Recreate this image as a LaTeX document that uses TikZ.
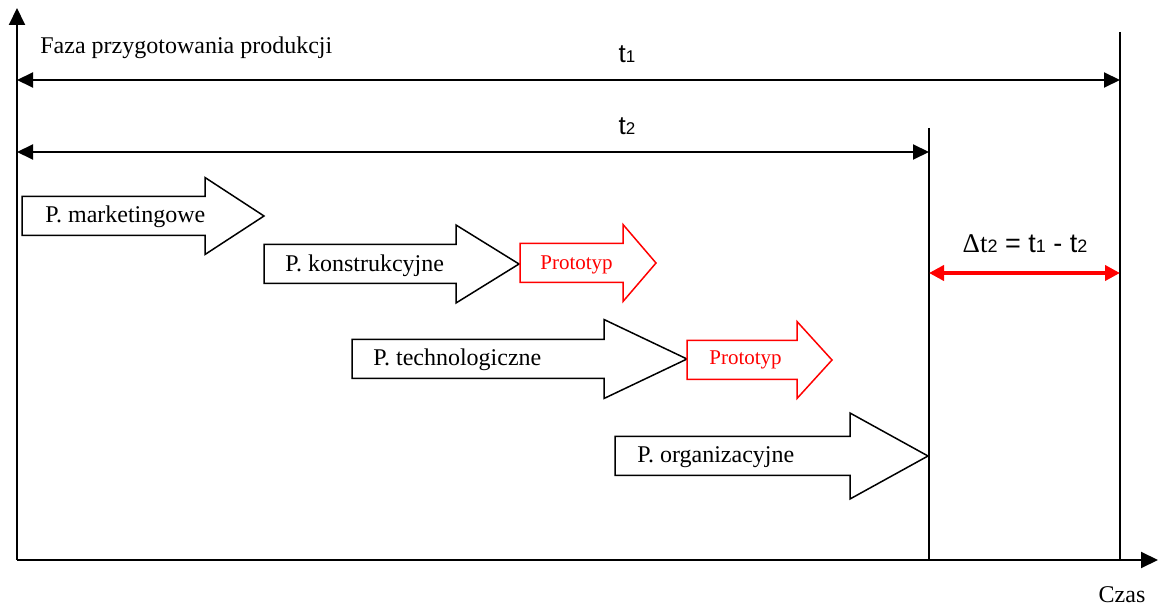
\documentclass[tikz,border=0pt]{standalone}
\usepackage{fontspec}
\setmainfont{Liberation Serif}
\newfontfamily\arialfont{Liberation Sans}
\usetikzlibrary{arrows.meta}

% block arrow: style, name of tip, left x, mid y, head x, tip x, head half height
\newcommand{\phasearrow}[7]{%
  \draw[#1] (#3,#4-19.5) -- (#5,#4-19.5) -- (#5,#4-#7) -- (#6,#4)
    -- (#5,#4+#7) -- (#5,#4+19.5) -- (#3,#4+19.5) -- cycle;
  \coordinate (#2) at (#6,#4);
}
\newcommand{\tlab}[1]{{\arialfont\fontsize{13}{15}\selectfont t\fontsize{8.5}{10}\selectfont #1}}

\begin{document}
\begin{tikzpicture}[x=0.5pt, y=-0.5pt,
    axis/.style={line width=1pt, -{Triangle[length=8.5pt,width=8pt]}},
    dim/.style={line width=1pt, {Triangle[length=8pt,width=7.5pt]}-{Triangle[length=8pt,width=7.5pt]}},
    delta/.style={red, line width=2.2pt, {Triangle[length=7.5pt,width=7.5pt]}-{Triangle[length=7.5pt,width=7.5pt]}},
    phase/.style={draw=black, line width=0.75pt, fill=white},
    proto/.style={draw=red, line width=0.75pt, fill=white},
    lbl/.style={inner sep=0pt, anchor=base west, font=\fontsize{12}{14}\selectfont},
    protolbl/.style={inner sep=0pt, anchor=base west, text=red, font=\fontsize{10.5}{12}\selectfont}]
    \useasboundingbox (0,0) rectangle (1158,609);

    % Axes
    \coordinate (origin) at (17,560);
    \coordinate (ytop) at (17,8);
    \coordinate (xend) at (1158,560);
    \draw[axis] (origin) -- (ytop);
    \draw[axis] (origin) -- (xend);
    \node[inner sep=0pt, anchor=base, font=\fontsize{12}{14}\selectfont] (czas) at (1122,603) {Czas};

    % End of t1 and t2
    \coordinate (t1top) at (1120,32);
    \coordinate (t1bot) at (1120,560);
    \coordinate (t2top) at (929,128);
    \coordinate (t2bot) at (929,560);
    \draw[line width=1pt] (t1top) -- (t1bot);
    \draw[line width=1pt] (t2top) -- (t2bot);

    % Durations
    \node[lbl] (faza) at (40,54) {Faza przygotowania produkcji};
    \coordinate (t1a) at (17,80);
    \coordinate (t1b) at (1120,80);
    \draw[dim] (t1a) -- (t1b);
    \node[inner sep=0pt, anchor=base] (t1) at (627,63) {\tlab{1}};
    \coordinate (t2a) at (17,152);
    \coordinate (t2b) at (929,152);
    \draw[dim] (t2a) -- (t2b);
    \node[inner sep=0pt, anchor=base] (t2) at (627,135) {\tlab{2}};

    % Difference
    \coordinate (da) at (929,273);
    \coordinate (db) at (1120,273);
    \draw[delta] (da) -- (db);
    \node[inner sep=0pt, anchor=base] (dt) at (1025,253)
    {{\fontsize{13.5}{15}\selectfont Δt}{\arialfont\fontsize{9}{10}\selectfont 2}{\arialfont\fontsize{13.5}{15}\selectfont{} = t{\fontsize{9}{10}\selectfont 1} - t{\fontsize{9}{10}\selectfont 2}}};

    % Phases
    \phasearrow{phase}{mktip}{22}{216}{205}{264}{38.5}
    \node[lbl] (mkt) at (45,223) {P. marketingowe};

    \phasearrow{phase}{kontip}{264}{264}{456}{519}{39}
    \node[lbl] (kon) at (285,272) {P. konstrukcyjne};
    \phasearrow{proto}{pr1tip}{520}{263}{623}{656}{38.5}
    \node[protolbl] (pr1) at (540,270) {Prototyp};

    \phasearrow{phase}{techtip}{352}{359}{604}{687}{39.5}
    \node[lbl] (tech) at (373,366) {P. technologiczne};
    \phasearrow{proto}{pr2tip}{687}{360}{797}{832}{38.5}
    \node[protolbl] (pr2) at (709,365) {Prototyp};

    \phasearrow{phase}{orgtip}{615}{456}{850}{928}{43}
    \node[lbl] (org) at (637,463) {P. organizacyjne};

\end{tikzpicture}
\end{document}
